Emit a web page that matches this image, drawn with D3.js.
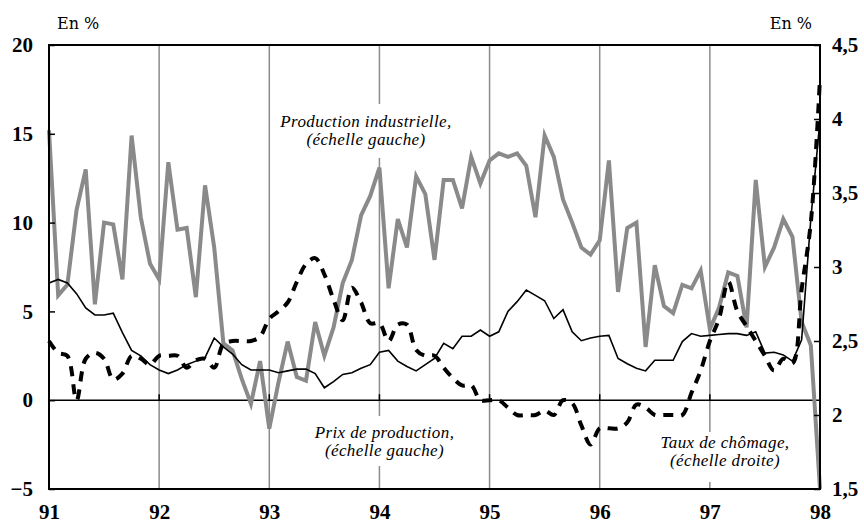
<!DOCTYPE html>
<html>
<head>
<meta charset="utf-8">
<script src="https://cdnjs.cloudflare.com/ajax/libs/d3/7.8.5/d3.min.js"></script>
<style>
	body { margin: 0; background: #fff; }
	svg text { fill: #000; font-family: 'Liberation Serif', 'DejaVu Serif', serif; }
</style>
</head>
<body>
<script>
// data
var years = ['91', '92', '93', '94', '95', '96', '97', '98'];
var leftTicks = [-5, 0, 5, 10, 15, 20];
var rightTicks = [1.5, 2, 2.5, 3, 3.5, 4, 4.5];

// monthly, jan 91 -> jan 98
var prodIndus = [
	15.2, 5.9, 6.5, 10.7, 13.0, 5.4, 10.0, 9.9, 6.8, 14.9, 10.3, 7.7,
	6.8, 13.4, 9.6, 9.7, 5.8, 12.1, 8.6, 3.2, 2.8, 1.2, -0.2, 2.2,
	-1.6, 1.0, 3.3, 1.3, 1.1, 4.4, 2.5, 4.1, 6.6, 7.9, 10.4, 11.5,
	13.1, 6.3, 10.2, 8.6, 12.6, 11.6, 7.9, 12.4, 12.4, 10.8, 13.7, 12.2,
	13.5, 13.9, 13.7, 13.9, 13.2, 10.3, 14.9, 13.7, 11.3, 10.0, 8.6, 8.2,
	9.0, 13.5, 6.1, 9.7, 10.0, 3.0, 7.6, 5.3, 4.9, 6.5, 6.3, 7.3,
	4.0, 5.2, 7.2, 7.0, 4.1, 12.4, 7.5, 8.6, 10.2, 9.2, 4.4, 3.1,
	-5.0
];
var prixProd = [
	6.6, 6.8, 6.6, 6.0, 5.2, 4.8, 4.8, 4.9, 3.8, 2.8, 2.5, 2.0,
	1.7, 1.5, 1.7, 2.0, 2.2, 2.4, 3.5, 3.0, 2.6, 2.0, 1.7, 1.7,
	1.7, 1.55, 1.65, 1.75, 1.75, 1.5, 0.7, 1.05, 1.45, 1.55, 1.8, 2.0,
	2.7, 2.8, 2.2, 1.9, 1.65, 2.0, 2.35, 3.2, 2.9, 3.6, 3.6, 3.95,
	3.6, 3.85, 5.0, 5.55, 6.2, 5.9, 5.6, 4.6, 5.1, 3.85, 3.35, 3.5,
	3.6, 3.65, 2.35, 2.05, 1.8, 1.65, 2.25, 2.25, 2.25, 3.3, 3.75, 3.6,
	3.65, 3.7, 3.75, 3.75, 3.65, 3.85, 2.65, 2.7, 2.55, 2.2, 3.4, 10.2,
	15.8
];
var chomage = [
	2.5, 2.42, 2.4, 2.1, 2.38, 2.42, 2.38, 2.24, 2.28, 2.4, 2.38, 2.34,
	2.4, 2.4, 2.4, 2.32, 2.37, 2.38, 2.32, 2.48, 2.5, 2.5, 2.5, 2.53,
	2.65, 2.7, 2.76, 2.9, 3.02, 3.06, 2.95, 2.78, 2.64, 2.86, 2.76, 2.62,
	2.62, 2.5, 2.61, 2.61, 2.44, 2.4, 2.4, 2.32, 2.25, 2.2, 2.2, 2.1,
	2.1, 2.1, 2.05, 2.0, 2.0, 2.0, 2.03, 2.0, 2.1, 2.08, 1.93, 1.8,
	1.91, 1.91, 1.91, 1.95, 2.07, 2.05, 2.0, 2.0, 2.0, 2.0, 2.15, 2.3,
	2.5, 2.65, 2.9, 2.7, 2.6, 2.5, 2.4, 2.3, 2.38, 2.35, 2.85, 3.3,
	4.28
];

// chart
var margin = { top: 45, right: 44, bottom: 35, left: 49 };
var width = 864 - margin.left - margin.right;
var height = 524 - margin.top - margin.bottom;

var root = d3.select('body')
	.append('svg')
	.attr('width', 864)
	.attr('height', 524);

var svg = root.append('g')
	.attr('transform', 'translate(' + margin.left + ',' + margin.top + ')');

var x = d3.scaleLinear().domain([0, prodIndus.length - 1]).range([0, width]);
var yL = d3.scaleLinear().domain([-5, 20]).range([height, 0]);
var yR = d3.scaleLinear().domain([1.5, 4.5]).range([height, 0]);

var serif = "'Liberation Serif', 'DejaVu Serif', serif";

// vertical grid, one per year
svg.append('g')
	.selectAll('line')
	.data(years.slice(1, -1))
	.enter()
	.append('line')
	.attr('x1', function (d, i) { return x((i + 1) * 12); })
	.attr('x2', function (d, i) { return x((i + 1) * 12); })
	.attr('y1', 0)
	.attr('y2', height)
	.attr('stroke', '#8c8c8c')
	.attr('stroke-width', 1.5);

// zero line + small year ticks on it
svg.append('line')
	.attr('x1', 0).attr('x2', width)
	.attr('y1', yL(0)).attr('y2', yL(0))
	.attr('stroke', '#000')
	.attr('stroke-width', 1.5);
svg.append('g')
	.selectAll('line')
	.data(years.slice(1, -1))
	.enter()
	.append('line')
	.attr('x1', function (d, i) { return x((i + 1) * 12); })
	.attr('x2', function (d, i) { return x((i + 1) * 12); })
	.attr('y1', yL(0) - 6)
	.attr('y2', yL(0))
	.attr('stroke', '#000')
	.attr('stroke-width', 1.5);

// series labels (white boxes cut the grid)
function note (cx, y1, lines, box) {
	svg.append('rect')
		.attr('x', box[0]).attr('y', box[1])
		.attr('width', box[2]).attr('height', box[3])
		.attr('fill', '#fff');
	lines.forEach(function (t, i) {
		svg.append('text')
			.attr('x', cx)
			.attr('y', y1 + i * 17.5)
			.attr('text-anchor', 'middle')
			.attr('font-family', serif)
			.style('font-family', serif)
			.style('font-style', 'italic')
			.style('font-size', '17px')
			.style('letter-spacing', '0.4px')
			.text(t);
	});
}
note(317, 82, ['Production industrielle,', '(échelle gauche)'], [224, 59, 188, 54]);
note(335.5, 393, ['Prix de production,', '(échelle gauche)'], [258, 371, 156, 50]);
note(676, 403, ['Taux de chômage,', '(échelle droite)'], [602, 387, 150, 50]);

// lines
var lineL = d3.line()
	.x(function (d, i) { return x(i); })
	.y(function (d) { return yL(d); });
var lineR = d3.line()
	.x(function (d, i) { return x(i); })
	.y(function (d) { return yR(d); })
	.curve(d3.curveCatmullRom.alpha(0.5));

svg.append('path')
	.datum(prodIndus)
	.attr('d', lineL)
	.attr('fill', 'none')
	.attr('stroke', '#8a8a8a')
	.attr('stroke-width', 4)
	.attr('stroke-linejoin', 'miter');

svg.append('path')
	.datum(prixProd)
	.attr('d', lineL)
	.attr('fill', 'none')
	.attr('stroke', '#000')
	.attr('stroke-width', 1.6);

svg.append('path')
	.datum(chomage)
	.attr('d', lineR)
	.attr('fill', 'none')
	.attr('stroke', '#000')
	.attr('stroke-width', 4)
	.attr('stroke-dasharray', '10,8');

// axes
var axL = d3.axisLeft(yL)
	.tickValues(leftTicks)
	.tickSize(-6)
	.tickPadding(16);
var axR = d3.axisRight(yR)
	.tickValues(rightTicks)
	.tickSize(-6)
	.tickPadding(12)
	.tickFormat(function (d) { return String(d).replace('.', ','); });
var axB = d3.axisBottom(x)
	.tickValues(years.map(function (d, i) { return i * 12; }))
	.tickSize(0)
	.tickPadding(15)
	.tickFormat(function (d) { return years[d / 12]; });

[[axL, 0, 0], [axR, width, 0], [axB, 0, height]].forEach(function (a) {
	var g = svg.append('g')
		.attr('transform', 'translate(' + a[1] + ',' + a[2] + ')')
		.call(a[0]);
	g.attr('font-family', serif);
	g.select('.domain').remove();
	g.selectAll('.tick line').attr('stroke', '#000').attr('stroke-width', 1.5);
	g.selectAll('text')
		.style('font-family', serif)
		.style('font-weight', 'bold')
		.style('font-size', '21px')
		.attr('fill', '#000');
});

// frame
svg.append('rect')
	.attr('width', width)
	.attr('height', height)
	.attr('fill', 'none')
	.attr('stroke', '#000')
	.attr('stroke-width', 2);

// units
root.append('text')
	.attr('x', 57).attr('y', 29)
	.style('font-family', "'DejaVu Serif', serif")
	.style('font-size', '16px')
	.text('En %');
root.append('text')
	.attr('x', 812).attr('y', 29)
	.attr('text-anchor', 'end')
	.style('font-family', "'DejaVu Serif', serif")
	.style('font-size', '16px')
	.text('En %');
</script>
</body>
</html>
